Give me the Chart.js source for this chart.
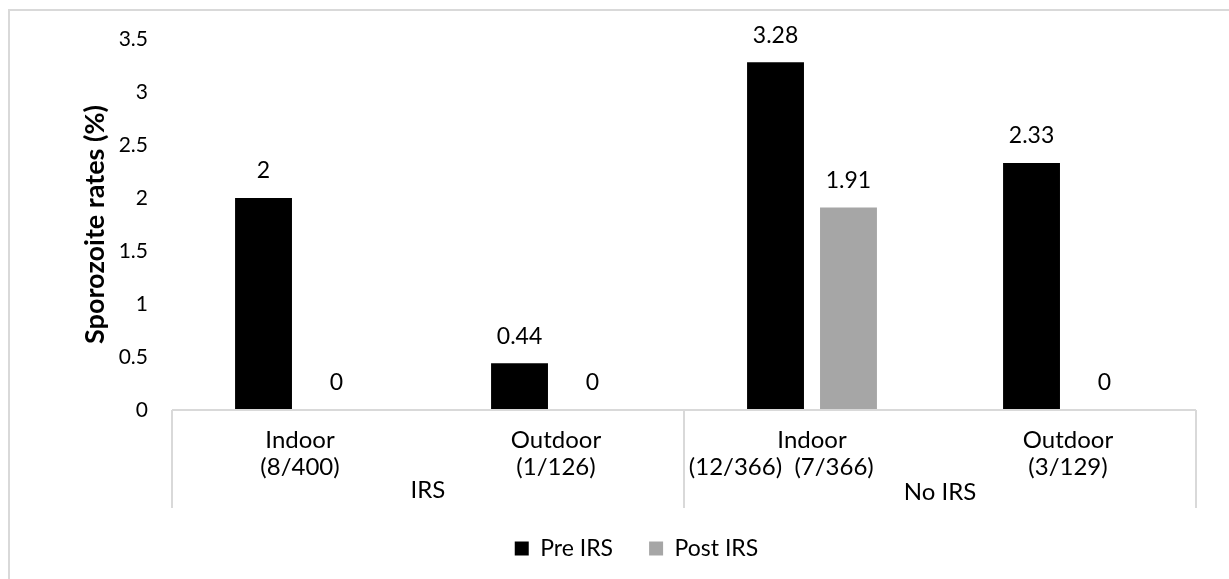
<!DOCTYPE html>
<html>
<head>
<meta charset="utf-8">
<title>Sporozoite rates</title>
<script src="https://cdn.jsdelivr.net/npm/chart.js@4"></script>
<style>
    body { margin: 0; background: #fff; }
    canvas { display: block; }
</style>
</head>
<body>
<canvas id="barChart" width="1229" height="579"></canvas>
<script>
// Chart data
const categories = [
    ['Indoor', '(8/400)'],
    ['Outdoor', '(1/126)'],
    ['Indoor', '(12/366)  (7/366)          '],
    ['Outdoor', '(3/129)']
];
const groupLabels = ['IRS', 'No IRS'];
const preIRS = [2, 0.44, 3.28, 2.33];
const postIRS = [0, 0, 1.91, 0];
const yMin = 0;
const yMax = 3.5;
const yStep = 0.5;

const fontFamily = 'Lato, "Open Sans", sans-serif';
const lineColor = '#d9d9d9';

// Outer frame (cut off at right and bottom like the source)
const framePlugin = {
    id: 'frame',
    beforeDraw(chart) {
        const ctx = chart.ctx;
        ctx.save();
        ctx.strokeStyle = lineColor;
        ctx.lineWidth = 2;
        ctx.strokeRect(9, 10, chart.width + 20, chart.height + 20);
        ctx.restore();
    }
};

// Value labels above bars
const valueLabels = {
    id: 'valueLabels',
    afterDatasetsDraw(chart) {
        const ctx = chart.ctx;
        ctx.save();
        ctx.font = '23px ' + fontFamily;
        ctx.fillStyle = '#000';
        ctx.textAlign = 'center';
        ctx.textBaseline = 'middle';
        chart.data.datasets.forEach((ds, i) => {
            chart.getDatasetMeta(i).data.forEach((bar, j) => {
                ctx.fillText(String(ds.data[j]), bar.x, bar.y - 27);
            });
        });
        ctx.restore();
    }
};

// Excel style two-level category box and group labels
const groupAxis = {
    id: 'groupAxis',
    afterDraw(chart) {
        const ctx = chart.ctx;
        const area = chart.chartArea;
        const x = chart.scales.x;
        const boxBottom = area.bottom + 98;
        const mid = (x.getPixelForTick(1) + x.getPixelForTick(2)) / 2;

        ctx.save();
        ctx.strokeStyle = lineColor;
        ctx.lineWidth = 2;
        ctx.beginPath();
        ctx.moveTo(area.left, area.bottom);
        ctx.lineTo(area.right, area.bottom);
        [area.left, mid, area.right].forEach(px => {
            ctx.moveTo(px, area.bottom);
            ctx.lineTo(px, boxBottom);
        });
        ctx.stroke();

        ctx.font = '24px ' + fontFamily;
        ctx.fillStyle = '#000';
        ctx.textAlign = 'center';
        ctx.textBaseline = 'middle';
        ctx.fillText(groupLabels[0], (area.left + mid) / 2, area.bottom + 80);
        ctx.fillText(groupLabels[1], (mid + area.right) / 2, area.bottom + 82);
        ctx.restore();
    }
};

const ctxBar = document.getElementById('barChart').getContext('2d');
new Chart(ctxBar, {
    type: 'bar',
    data: {
        labels: categories,
        datasets: [{
            label: 'Pre IRS',
            data: preIRS,
            backgroundColor: '#000000',
            categoryPercentage: 0.57,
            barPercentage: 0.78
        }, {
            label: 'Post IRS',
            data: postIRS,
            backgroundColor: '#a6a6a6',
            categoryPercentage: 0.57,
            barPercentage: 0.78
        }]
    },
    options: {
        responsive: false,
        animation: false,
        layout: {
            padding: { left: 77, right: 33, top: 39, bottom: 9 }
        },
        plugins: {
            legend: {
                position: 'bottom',
                labels: {
                    boxWidth: 14,
                    boxHeight: 14,
                    padding: 36,
                    color: '#000',
                    font: { family: fontFamily, size: 23 }
                }
            },
            tooltip: { enabled: false }
        },
        scales: {
            x: {
                grid: { display: false, drawTicks: false },
                border: { display: false },
                ticks: {
                    color: '#000',
                    maxRotation: 0,
                    autoSkip: false,
                    padding: 16,
                    font: { family: fontFamily, size: 24, lineHeight: 1.15 }
                },
                afterFit(scale) { scale.height = 91; }
            },
            y: {
                min: yMin,
                max: yMax,
                grid: { display: false, drawTicks: false },
                border: { display: false },
                ticks: {
                    stepSize: yStep,
                    color: '#000',
                    padding: 24,
                    font: { family: fontFamily, size: 21 },
                    callback: (value) => String(Math.round(value * 100) / 100)
                },
                title: {
                    display: true,
                    text: 'Sporozoite rates (%)',
                    color: '#000',
                    padding: { top: 2, bottom: 4 },
                    font: { family: fontFamily, size: 27, weight: 'bold' }
                },
                afterFit(scale) { scale.width = 95; }
            }
        }
    },
    plugins: [framePlugin, valueLabels, groupAxis]
});
</script>
</body>
</html>
